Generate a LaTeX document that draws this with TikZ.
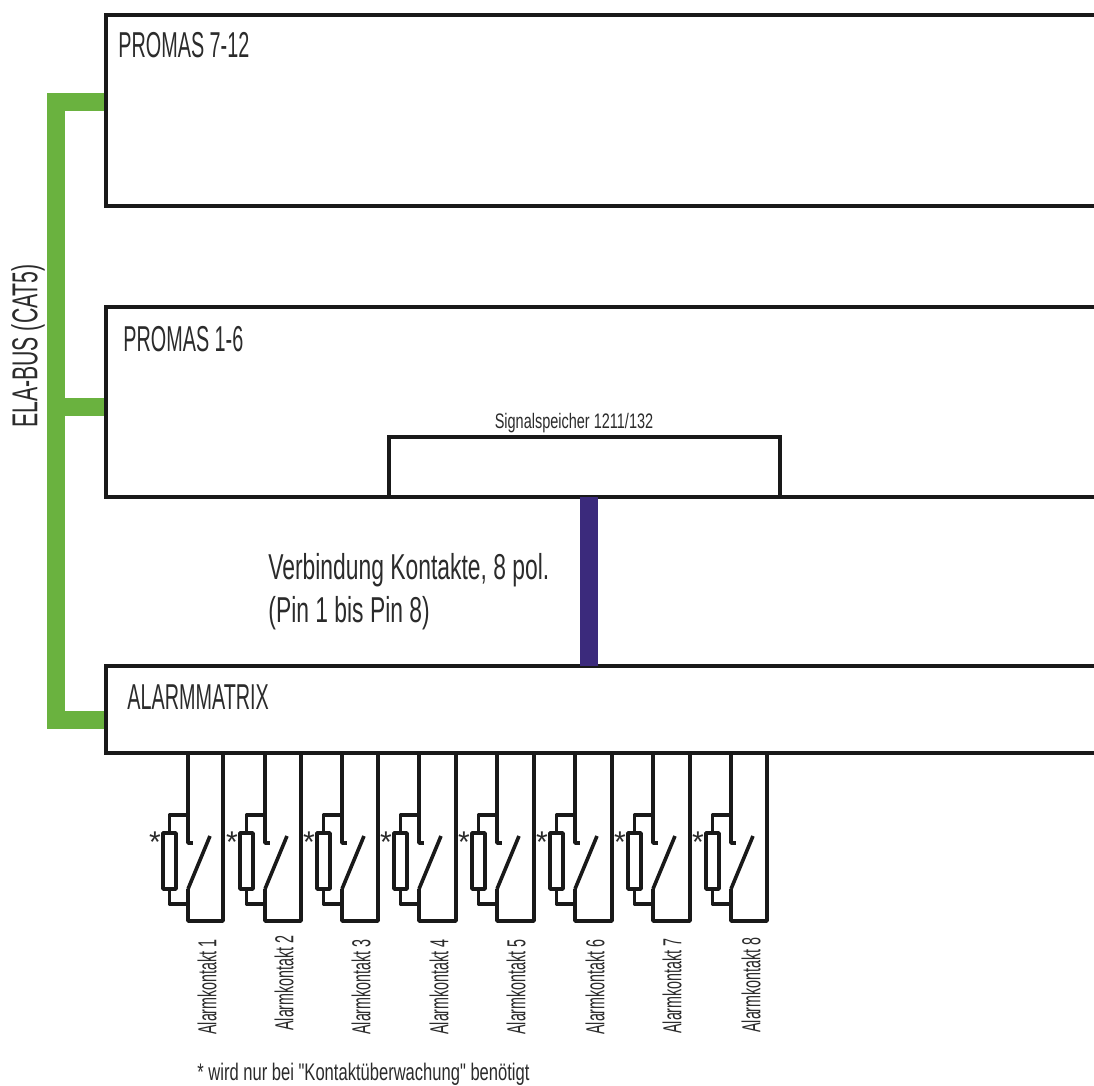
\documentclass[tikz,border=0pt]{standalone}
\usepackage{fontspec}
\setmainfont[FakeStretch=0.55]{Liberation Sans}
\newfontfamily\busfont[FakeStretch=0.59]{Liberation Sans}
\newfontfamily\kabelfont[FakeStretch=0.635]{Liberation Sans}
\newfontfamily\notefont[FakeStretch=0.69]{Liberation Sans}
\newfontfamily\sternfont{Liberation Sans}
\usetikzlibrary{positioning,calc}
\definecolor{busgreen}{HTML}{6AB23F}
\definecolor{kabelblue}{HTML}{3B2A7C}
\definecolor{textgrey}{HTML}{2B2B2B}
\tikzset{
	unit/.style={draw=black!90, line width=1.75pt, fill=white, anchor=north west, inner sep=0pt, outer sep=0pt, minimum width=520pt},
	unitlabel/.style={anchor=west, inner sep=0pt, text=textgrey, font=\fontsize{18}{20}\selectfont},
	wire/.style={draw=black!90, line width=1.8pt, line join=round},
	kontaktlabel/.style={rotate=90, inner sep=0pt, text=textgrey, font=\fontsize{13}{14}\selectfont},
}
\begin{document}
\begin{tikzpicture}[x=0.5pt,y=-0.5pt]
	\clip (0,0) rectangle (1094,1086);
	\fill[white] (0,0) rectangle (1094,1086);
	
	% ELA bus
	\coordinate (busA) at (56,102);
	\coordinate (busB) at (56,407);
	\coordinate (busC) at (56,720);
	\draw[busgreen, line width=9pt] (106,102) -- (busA) -- (busC) -- (106,720);
	\draw[busgreen, line width=9pt] (busB) -- (106,407);
	\node[rotate=90, inner sep=0pt, text=textgrey, font=\busfont\fontsize{18}{20}\selectfont] (buslabel) at (28,346) {ELA-BUS (CAT5)};
	
	% Units
	\node[unit, minimum height=95.5pt] (promasB) at (106,15) {};
	\node[unit, minimum height=95pt] (promasA) at (106,307) {};
	\node[unit, minimum height=43.5pt] (matrix) at (106,666) {};
	\node[unit, minimum width=195.5pt, minimum height=30pt] (speicher) at (389,437) {};
	\node[unitlabel] (promasBlabel) at (118,45) {PROMAS 7-12};
	\node[unitlabel] (promasAlabel) at (123,339) {PROMAS 1-6};
	\node[unitlabel] (matrixlabel) at (127,697) {ALARMMATRIX};
	\node[inner sep=0pt, text=textgrey, font=\notefont\fontsize{10.5}{12}\selectfont] (speicherlabel) at (574,423) {Signalspeicher 1211/132};
	
	% Connection of the contacts
	\coordinate (kabel) at (588.5,580);
	\draw[kabelblue, line width=9pt] (speicher.south -| kabel) -- (matrix.north -| kabel);
	\node[anchor=north west, inner sep=0pt, align=left, text=textgrey, font=\kabelfont\fontsize{18}{21.5}\selectfont] (kabellabel) at (268,553) {Verbindung Kontakte, 8 pol.\\(Pin 1 bis Pin 8)};
	
	% Alarm contacts
	\foreach \x/\r/\t/\y/\n in {188/223/207/987/1,265/301/284/983/2,342/378/361/987/3,419/456/439/987/4,497/534/516/987/5,575/612/595/987/6,653/690/672/986/7,731/767/751/985/8} {
		\draw[wire] (\x,753) -- (\x,843) -- (\x+5,843);
		\draw[wire] (\x,889) -- (\x+22,836);
		\draw[wire] (\x,889) -- (\x,921) -- (\r,921) -- (\r,753);
		\draw[wire] (\x-25,833) rectangle (\x-12,889);
		\draw[wire] (\x-18.5,833) -- (\x-18.5,815) -- (\x,815);
		\draw[wire] (\x-18.5,889) -- (\x-18.5,904) -- (\x,904);
		\node[inner sep=0pt, text=textgrey, font=\sternfont\fontsize{15}{16}\selectfont] (stern\n) at (\x-33,842) {*};
		\node[kontaktlabel] (kontakt\n) at (\t,\y) {Alarmkontakt \n};
	}
	
	% Footnote
	\node[anchor=base west, inner sep=0pt, text=textgrey, font=\notefont\fontsize{12}{13}\selectfont] (fussnote) at (197,1080) {* wird nur bei "Kontaktüberwachung" benötigt};
\end{tikzpicture}
\end{document}
